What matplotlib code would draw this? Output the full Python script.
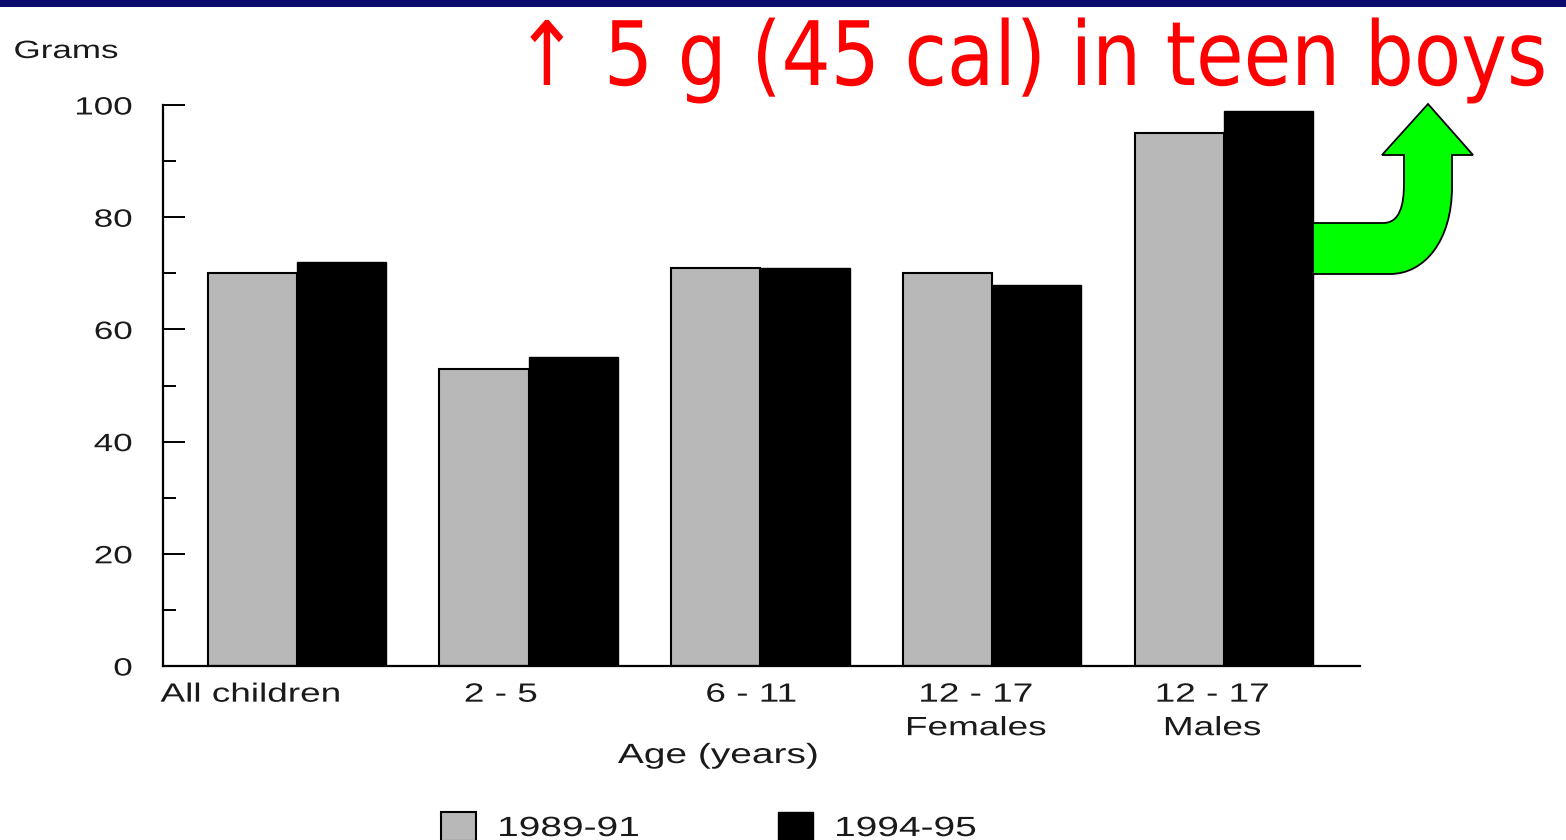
import matplotlib
matplotlib.use("Agg")
import matplotlib.pyplot as plt
from matplotlib.path import Path
from matplotlib.patches import PathPatch, Rectangle
from matplotlib.patheffects import AbstractPathEffect
from matplotlib.transforms import Affine2D
import numpy as np

# fat intake by age group, grams per day
groups = ["All children", "2 - 5", "6 - 11", "12 - 17\nFemales", "12 - 17\nMales"]
series_names = ["1989-91", "1994-95"]
grams_8991 = [70, 53, 71, 70, 95]
grams_9495 = [72, 55, 71, 68, 99]
yticks = [0, 20, 40, 60, 80, 100]
title = "\u2191 5 g (45 cal) in teen boys"

W, H = 1566, 840
fig = plt.figure(figsize=(W / 100, H / 100), dpi=100)
plt.rcParams['font.family'] = ['Liberation Sans', 'DejaVu Sans']


class Stretch(AbstractPathEffect):
    """Scale glyphs horizontally about the left/centre/right of each line."""

    def __init__(self, sx, ha="center"):
        super().__init__()
        self.sx = sx
        self.ha = ha

    def draw_path(self, renderer, gc, tpath, affine, rgbFace=None):
        ext = tpath.get_extents(affine)
        pivot = {"left": ext.x0, "center": (ext.x0 + ext.x1) / 2, "right": ext.x1}[self.ha]
        t = affine + Affine2D().translate(-pivot, 0).scale(self.sx, 1).translate(pivot, 0)
        renderer.draw_path(gc, tpath, t, rgbFace)


def px(x, y):
    # image pixel (from top-left) -> figure fraction
    return x / W, 1 - y / H


TXT = "#1a1a1a"
SX = 1.4

# navy strip across the top
fig.patches.append(Rectangle((0, 1 - 7 / H), 1, 7 / H, transform=fig.transFigure,
                             facecolor="#0b0b6e", edgecolor="none", zorder=0))

ax = fig.add_axes([163 / W, 1 - 666 / H, (1360 - 163) / W, (666 - 105) / H])
x = np.arange(len(groups))
w = 0.385
ax.bar(x - w / 2, grams_8991, w, color="#b8b8b8", edgecolor="black", linewidth=1.5,
       label=series_names[0], zorder=2)
ax.bar(x + w / 2, grams_9495, w, color="black", edgecolor="black", linewidth=1.0,
       label=series_names[1], zorder=2)

ax.set_xlim(-0.578, 4.587)
ax.set_ylim(0, 100)
for s in ["top", "right"]:
    ax.spines[s].set_visible(False)
for s in ["left", "bottom"]:
    ax.spines[s].set_linewidth(1.6)

ax.set_yticks(yticks)
ax.set_yticks(np.arange(10, 100, 20), minor=True)
ax.tick_params(axis="y", which="major", direction="in", length=16, width=1.4,
               pad=22, labelsize=18, labelcolor=TXT)
ax.tick_params(axis="y", which="minor", direction="in", length=9, width=1.4)

# category labels sit a little left of the bar pairs
label_shift = [-0.20, -0.12, -0.04, -0.07, -0.05]
ax.set_xticks(x + np.array(label_shift))
ax.set_xticklabels(groups, fontsize=19, color=TXT, linespacing=1.5, va="top")
ax.tick_params(axis="x", length=0, pad=12)

for lab in ax.get_yticklabels():
    lab.set_path_effects([Stretch(SX, "right")])
for lab in ax.get_xticklabels():
    lab.set_path_effects([Stretch(SX, "center")])

fig.text(14 / W, 1 - 51 / H, "Grams", fontsize=18, color=TXT, va="center",
         path_effects=[Stretch(SX, "left")])
fig.text(718 / W, 1 - 756 / H, "Age (years)", fontsize=20, color=TXT,
         ha="center", va="center", path_effects=[Stretch(SX, "center")])

leg = fig.legend(loc="upper left", bbox_to_anchor=px(441, 812), ncol=2, frameon=False,
                 fontsize=20, handlelength=1.25, handleheight=1.25, handletextpad=0.8,
                 columnspacing=6.4, borderpad=0, borderaxespad=0, labelcolor=TXT)
for t in leg.get_texts():
    t.set_path_effects([Stretch(SX, "left")])

fig.text(1548 / W, 1 - 85 / H, title, fontsize=64, color="#ff0000",
         family="DejaVu Sans", ha="right", va="baseline",
         path_effects=[Stretch(0.87, "right")])

# green bent arrow from the last bar pair
pts = [(1313, 223), (1383, 223), (1400, 223), (1404, 205), (1404, 183),
       (1404, 155), (1382, 155), (1428, 104), (1473, 155), (1452, 155),
       (1452, 187), (1452, 240), (1425, 274), (1390, 274), (1313, 274), (1313, 223)]
codes = [Path.MOVETO, Path.LINETO, Path.CURVE4, Path.CURVE4, Path.CURVE4,
         Path.LINETO, Path.LINETO, Path.LINETO, Path.LINETO, Path.LINETO,
         Path.LINETO, Path.CURVE4, Path.CURVE4, Path.CURVE4, Path.LINETO, Path.CLOSEPOLY]
arrow = Path([px(a, b) for a, b in pts], codes)
fig.patches.append(PathPatch(arrow, transform=fig.transFigure, facecolor="#00ff00",
                             edgecolor="black", linewidth=1.3, zorder=5))

fig.savefig("out.png", dpi=100)
